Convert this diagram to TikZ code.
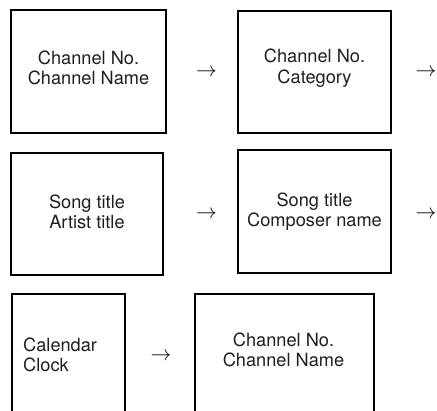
\documentclass[tikz,border=0pt]{standalone}
\usepackage{fontspec}
\setmainfont{TeX Gyre Heros}
\begin{document}
\begin{tikzpicture}[x=1pt,y=-1pt,
  box/.style={draw=black,line width=2pt,inner sep=0pt},
  txt/.style={align=center,font=\fontsize{18.2}{20.5}\selectfont,text=black!88,inner sep=0pt},
  txtl/.style={align=left,font=\fontsize{18.2}{20.5}\selectfont,text=black!88,inner sep=0pt,anchor=west},
  arr/.style={font=\fontsize{20}{22}\selectfont,inner sep=0pt}]
\clip (0,0) rectangle (437,411);
\fill[white] (0,0) rectangle (437,411);
% row 1
\node[box,minimum width=155pt,minimum height=123pt] (b1) at (88.5,71.5) {};
\node[box,minimum width=153pt,minimum height=122pt] (b2) at (314.5,72) {};
\node[txt] (t1) at (88.5,68) {Channel No.\\Channel Name};
\node[txt] (t2) at (314.5,68) {Channel No.\\Category};
\node[arr] (a1) at (206.5,72.5) {$\rightarrow$};
\node[arr] (a2) at (426,72.5) {$\rightarrow$};
% row 2
\node[box,minimum width=152pt,minimum height=122pt] (b3) at (87,214) {};
\node[box,minimum width=153pt,minimum height=123pt] (b4) at (314.5,211.5) {};
\node[txt] (t3) at (87,212) {Song title\\Artist title};
\node[txt] (t4) at (314.5,211.5) {Song title\\Composer name};
\node[arr] (a3) at (206.5,215) {$\rightarrow$};
\node[arr] (a4) at (426,215) {$\rightarrow$};
% row 3 (open at bottom)
\node[box,minimum width=113pt,minimum height=140pt,anchor=north west] (b5) at (11,293) {};
\node[box,minimum width=179pt,minimum height=140pt,anchor=north west] (b6) at (194,293) {};
\node[txtl] (t5) at (23,355) {Calendar\\Clock};
\node[txt] (t6) at (283.5,350) {Channel No.\\Channel Name};
\node[arr] (a5) at (161,356.5) {$\rightarrow$};
\end{tikzpicture}
\end{document}
